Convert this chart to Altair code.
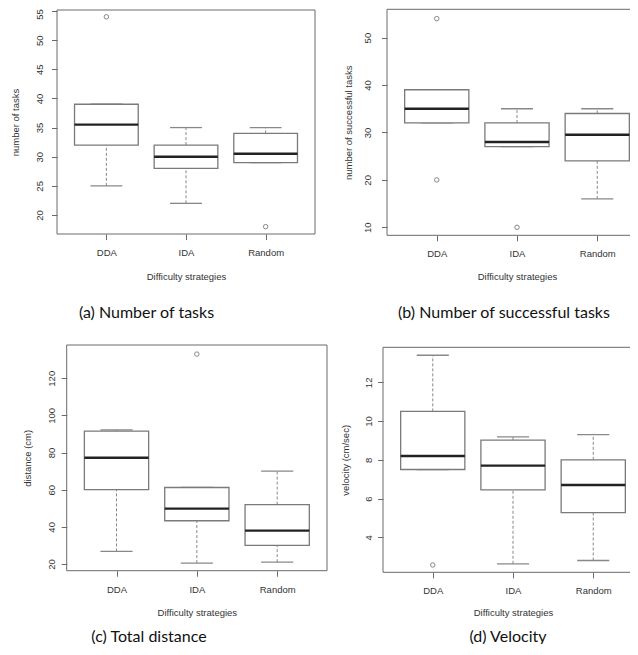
import json
import altair as alt
import pandas as pd

categories = ["DDA", "IDA", "Random"]

# (a) Number of tasks
a_low = [25, 22, 29]
a_q1 = [32, 28, 29]
a_med = [35.5, 30, 30.5]
a_q3 = [39, 32, 34]
a_high = [39, 35, 35]
a_out_cat = ["DDA", "Random"]
a_out_val = [54, 18]

# (b) Number of successful tasks
b_low = [32, 27, 16]
b_q1 = [32, 27, 24]
b_med = [35, 28, 29.5]
b_q3 = [39, 32, 34]
b_high = [39, 35, 35]
b_out_cat = ["DDA", "DDA", "IDA"]
b_out_val = [54, 20, 10]

# (c) Total distance
c_low = [26.8, 20.5, 21]
c_q1 = [60, 43.3, 30]
c_med = [77.2, 49.8, 38]
c_q3 = [91.5, 61.2, 52]
c_high = [92.2, 61.2, 70]
c_out_cat = ["IDA"]
c_out_val = [133]

# (d) Velocity
d_low = [7.5, 2.63, 2.8]
d_q1 = [7.5, 6.45, 5.27]
d_med = [8.2, 7.7, 6.7]
d_q3 = [10.5, 9.02, 8.0]
d_high = [13.4, 9.18, 9.3]
d_out_cat = ["DDA"]
d_out_val = [2.57]

y_titles = ["number of tasks", "number of successful tasks", "distance (cm)", "velocity (cm/sec)"]
x_title = "Difficulty strategies"
captions = ["(a) Number of tasks", "(b) Number of successful tasks", "(c) Total distance", "(d) Velocity"]
y_ticks = [[20, 25, 30, 35, 40, 45, 50, 55], [10, 20, 30, 40, 50],
           [20, 40, 60, 80, 100, 120], [4, 6, 8, 10, 12]]

# ---- layout / style ----
W, H = 622, 636
XDOM = [0.38, 3.62]
layout = [
    dict(xr=[49, 307], yr=[226, 2], ydom=[16.74, 55.17], ylab=18, ytit=42, xlab=18, xtit=42),
    dict(xr=[379, 639], yr=[227.3, 1.3], ydom=[8.31, 55.97], ylab=20, ytit=39, xlab=18, xtit=41),
    dict(xr=[58.7, 319], yr=[562.7, 337], ydom=[16.4, 137.9], ylab=15, ytit=38.7, xlab=18.3, xtit=42),
    dict(xr=[375, 635], yr=[564.3, 339.3], ydom=[2.19, 13.81], ylab=15, ytit=38, xlab=18.4, xtit=40),
]
cap_pos = [(138.5, 305), (496, 305), (141, 629), (500, 629)]

FONT = "Liberation Sans"
FRAME = "#6a6a6a"
BOX = "#7a7a7a"
MED = "#222222"
WHISK = "#888888"
TICK = 5.5

label_expr = json.dumps(categories) + "[datum.value - 1]"


def panel(i, low, q1, med, q3, high, out_cat, out_val):
    L = layout[i]
    df = pd.DataFrame({"cat": categories, "pos": [1, 2, 3], "low": low, "q1": q1,
                       "med": med, "q3": q3, "high": high})
    odf = pd.DataFrame({"cat": out_cat,
                        "pos": [categories.index(c) + 1 for c in out_cat],
                        "val": out_val})
    xs = alt.Scale(domain=XDOM, range=L["xr"], nice=False, zero=False)
    ys = alt.Scale(domain=L["ydom"], range=L["yr"], nice=False, zero=False)
    # keep a top-edge label inside the canvas
    top_tick = y_ticks[i][-1]
    label_off = {"condition": {"test": f"datum.value === {top_tick}", "value": 3},
                 "value": 0} if i == 0 else 0
    xaxis = alt.Axis(
        orient="bottom", offset=L["yr"][0] - H, values=[1, 2, 3], labelExpr=label_expr,
        title=x_title, grid=False, domain=False, tickSize=TICK, tickColor=FRAME,
        labelPadding=L["xlab"] - TICK, labelBaseline="middle", labelAlign="center",
        labelFont=FONT, labelFontSize=9.5, labelColor="#333333", labelFlush=False,
        labelOverlap=False, titleFont=FONT, titleFontSize=9.5, titleFontWeight="normal",
        titleColor="#333333", titleX=(L["xr"][0] + L["xr"][1]) / 2, titleY=L["xtit"],
        titleBaseline="middle", titleAlign="center")
    yaxis = alt.Axis(
        orient="left", offset=-L["xr"][0], values=y_ticks[i], grid=False, domain=False,
        tickSize=TICK, tickColor=FRAME, labelAngle=270, labelAlign="center",
        labelBaseline="middle", labelPadding=L["ylab"] - TICK, labelFont=FONT,
        labelFontSize=9.5, labelColor="#333333", labelFlush=False, labelOverlap=False,
        labelOffset=label_off,
        title=y_titles[i], titleFont=FONT, titleFontSize=9.5, titleFontWeight="normal",
        titleColor="#333333", titleAngle=270, titleX=-L["ytit"],
        titleY=(L["yr"][0] + L["yr"][1]) / 2, titleBaseline="middle", titleAlign="center")

    base = alt.Chart(df).transform_calculate(
        x0="datum.pos - 0.4", x1="datum.pos + 0.4",
        s0="datum.pos - 0.2", s1="datum.pos + 0.2")

    def X(f):
        return alt.X(f, scale=xs, axis=xaxis)

    def Y(f):
        return alt.Y(f, scale=ys, axis=yaxis)

    frame = alt.Chart(pd.DataFrame({"f": [0]})).mark_rect(
        filled=False, stroke=FRAME, strokeWidth=1, clip=True).encode(
        x=alt.XDatum(XDOM[0], type="quantitative", scale=xs, axis=xaxis),
        x2=alt.X2Datum(XDOM[1]),
        y=alt.YDatum(L["ydom"][0], type="quantitative", scale=ys, axis=yaxis),
        y2=alt.Y2Datum(L["ydom"][1]))

    wh_hi = base.mark_rule(color=WHISK, strokeDash=[3, 2], strokeWidth=1).encode(
        x=X("pos:Q"), y=Y("q3:Q"), y2="high:Q")
    wh_lo = base.mark_rule(color=WHISK, strokeDash=[3, 2], strokeWidth=1).encode(
        x=X("pos:Q"), y=Y("low:Q"), y2="q1:Q")
    cap_hi = base.mark_rule(color=WHISK, strokeWidth=1.3).encode(
        x=X("s0:Q"), x2="s1:Q", y=Y("high:Q"))
    cap_lo = base.mark_rule(color=WHISK, strokeWidth=1.3).encode(
        x=X("s0:Q"), x2="s1:Q", y=Y("low:Q"))
    box = base.mark_rect(fill="white", stroke=BOX, strokeWidth=1.3).encode(
        x=X("x0:Q"), x2="x1:Q", y=Y("q1:Q"), y2="q3:Q")
    median = base.mark_rule(color=MED, strokeWidth=2.4).encode(
        x=X("x0:Q"), x2="x1:Q", y=Y("med:Q"))
    outl = alt.Chart(odf).mark_point(shape="circle", filled=False, size=20,
                                     strokeWidth=1, color="#555555").encode(
        x=X("pos:Q"), y=Y("val:Q"))
    return alt.layer(frame, wh_hi, wh_lo, cap_hi, cap_lo, box, median, outl)


pa = panel(0, a_low, a_q1, a_med, a_q3, a_high, a_out_cat, a_out_val)
pb = panel(1, b_low, b_q1, b_med, b_q3, b_high, b_out_cat, b_out_val)
pc = panel(2, c_low, c_q1, c_med, c_q3, c_high, c_out_cat, c_out_val)
pd_ = panel(3, d_low, d_q1, d_med, d_q3, d_high, d_out_cat, d_out_val)

cap_layers = []
for cap, (cx, cy) in zip(captions, cap_pos):
    cap_layers.append(
        alt.Chart(pd.DataFrame({"t": [cap]})).mark_text(
            font="Lato", fontSize=16, color="#111111", align="center", baseline="middle").encode(
            text="t:N", x=alt.value(cx), y=alt.value(cy)))

chart = alt.layer(pa, pb, pc, pd_, *cap_layers).resolve_scale(
    x="independent", y="independent").resolve_axis(
    x="independent", y="independent").properties(
    width=W, height=H, padding=0, autosize=alt.AutoSizeParams(type="none"),
    background="white").configure_view(stroke=None)

chart.save("out.html", embed_options={"renderer": "svg", "actions": False})
